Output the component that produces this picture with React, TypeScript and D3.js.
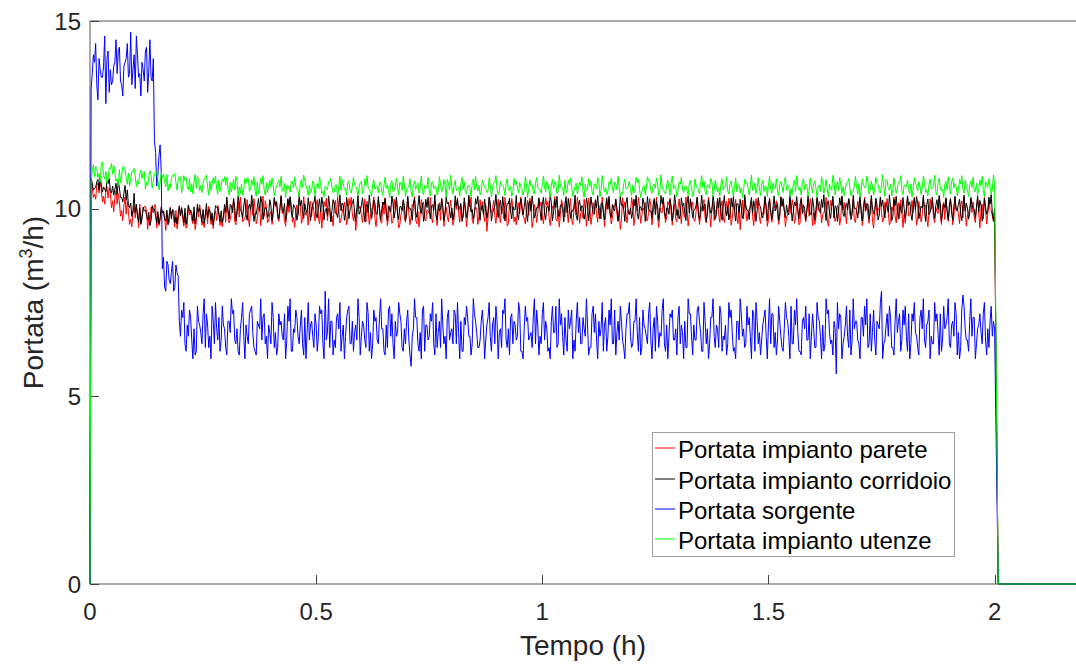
import React from 'react';
import * as d3 from 'd3';

// Sampling: "A" samples at i*STEP (i = 0..400), "B" samples at (i+0.5)*STEP (i = 0..399)
const STEP = 0.005;
const TAIL_T = [2.008, 2.18];
const TAIL_V = [0, 0];

const X_TICKS = [0, 0.5, 1, 1.5, 2];
const Y_TICKS = [0, 5, 10, 15];
const X_LABELS = ['0', '0.5', '1', '1.5', '2'];
const Y_LABELS = ['0', '5', '10', '15'];

// ---------- Portata sorgente (m3/h x10) ----------
const BLUE_A = [
  0,
  136,139,133,140,135,138,128,142,137,134,139,136,143,133,138,140,135,147,137,132,141,136,139,134,143,137,135,140,
  115,109,117,
  84,79,86,81,83,78,85,82,
  66,71,64,69,73,65,68,62,70,67,72,63,69,66,74,64,68,71,65,69,
  63,70,67,72,65,68,61,71,66,69,64,73,67,62,70,68,65,72,66,69,
  64,71,67,63,69,66,72,65,70,62,68,73,66,69,64,71,67,65,70,63,
  69,66,72,64,78,67,63,70,65,71,68,62,69,66,73,64,70,67,65,71,
  66,69,63,72,67,64,70,65,71,68,62,69,73,66,64,70,67,72,63,68,
  70,65,58,68,71,64,67,73,62,69,66,70,64,72,67,63,69,66,71,65,
  68,73,64,67,70,62,69,71,66,64,72,67,63,70,68,65,71,66,69,64,
  70,67,63,72,65,68,71,64,69,66,73,62,68,70,65,67,71,64,69,66,
  72,65,68,63,70,67,74,64,69,66,71,62,68,73,65,70,67,64,71,66,
  69,63,72,67,65,70,68,62,71,66,69,64,73,67,65,70,63,68,72,66,
  64,70,67,71,63,69,66,72,65,68,62,70,67,73,64,69,66,71,65,68,
  71,64,67,70,63,72,66,69,65,74,67,62,70,68,64,71,66,69,63,72,
  66,69,64,71,67,63,70,65,72,68,64,69,66,73,62,70,67,65,71,66,
  69,64,72,67,65,70,63,68,71,66,74,64,69,67,62,70,68,65,72,66,
  68,63,71,66,69,64,72,67,65,70,56,68,71,64,69,66,73,65,68,70,
  64,71,66,69,63,72,67,65,70,68,78,64,69,66,71,63,70,67,72,65,
  69,66,72,64,70,67,63,71,68,65,69,73,66,64,70,67,72,65,68,71,
  64,69,66,72,67,63,77,68,65,70,66,71,64,69,67,72,65,68,70,66,
  68,
];
const BLUE_B = [
  132,141,144,129,137,135,146,140,131,133,138,145,142,134,130,139,144,136,133,141,146,135,130,137,142,131,145,134,
  118,106,114,110,87,78,85,80,86,79,83,70,
  73,75,62,66,71,60,61,74,69,64,76,72,63,60,70,75,65,62,74,68,
  61,70,76,73,64,62,68,75,60,66,72,74,63,61,69,76,71,64,60,67,
  75,63,61,72,70,65,60,74,76,62,67,71,64,73,61,60,75,69,66,72,
  62,74,73,60,65,76,70,61,63,72,75,66,60,71,74,64,62,69,76,61,
  70,65,75,62,60,73,71,64,76,68,61,63,74,72,60,66,75,70,62,64,
  73,61,66,76,71,62,60,74,69,65,72,75,61,63,70,76,64,60,73,67,
  64,72,75,60,62,71,74,66,61,76,70,63,65,73,60,69,75,62,71,74,
  60,68,73,76,63,61,72,70,65,75,62,60,74,71,66,63,76,73,61,64,
  75,70,62,60,74,67,63,76,72,61,65,73,70,60,62,75,71,64,68,76,
  61,63,74,72,60,66,75,69,62,73,76,64,61,70,74,65,60,72,75,63,
  70,76,62,61,73,68,64,75,60,71,74,63,66,76,62,60,72,73,65,61,
  74,69,60,63,76,72,61,65,73,70,62,75,64,60,71,76,63,68,74,62,
  65,61,75,73,62,60,70,76,66,63,74,71,60,72,75,64,61,69,73,60,
  76,72,63,61,74,66,62,75,70,60,64,73,76,62,61,71,74,65,60,72,
  63,75,70,60,62,76,73,64,61,68,75,72,60,66,74,63,61,76,70,65,
  60,71,74,76,64,62,73,61,69,75,60,65,72,74,63,61,76,70,62,73,
  74,62,60,72,75,66,61,73,76,63,70,60,64,75,72,61,62,74,69,76,
  63,70,75,61,60,73,74,65,62,76,71,60,68,72,64,75,61,63,74,70,
];

// ---------- Portata impianto utenze (m3/h x100) ----------
const GREEN_A = [
  0,
  1102,1085,1110,1094,1120,1088,1099,1081,1106,1092,1097,1079,1104,1088,1112,1083,1095,1078,1100,1087,
  1076,1093,1080,1099,1071,1086,1090,1074,1095,1078,1069,1083,1072,1091,1066,1080,1088,1070,1079,1085,
  1061,1075,1058,1080,1065,1071,1054,1078,1062,1069,1085,1057,1073,1064,1068,1052,1076,1060,1072,1063,
  1055,1070,1061,1049,1074,1058,1066,1052,1068,1080,1056,1063,1047,1071,1059,1065,1050,1069,1062,1057,
  1064,1051,1070,1058,1046,1067,1061,1053,1072,1055,1060,1048,1066,1057,1075,1052,1063,1049,1068,1059,
  1054,1067,1046,1060,1051,1071,1056,1044,1063,1058,1049,1066,1053,1070,1047,1059,1064,1050,1057,1073,
  1048,1061,1055,1043,1065,1052,1058,1069,1047,1062,1054,1050,1067,1045,1060,1056,1071,1049,1063,1053,
  1058,1046,1064,1051,1068,1055,1044,1062,1057,1049,1070,1053,1059,1047,1065,1052,1061,1078,1050,1056,
  1063,1048,1057,1066,1051,1045,1060,1054,1069,1050,1058,1062,1046,1067,1053,1049,1064,1056,1071,1052,
  1047,1061,1055,1068,1050,1059,1044,1063,1057,1070,1052,1048,1066,1054,1060,1045,1069,1056,1051,1064,
  1058,1072,1049,1062,1053,1067,1046,1060,1055,1076,1050,1063,1057,1047,1068,1054,1061,1048,1065,1052,
  1059,1045,1066,1053,1070,1049,1062,1056,1047,1064,1055,1071,1050,1058,1044,1067,1053,1060,1048,1063,
  1056,1069,1051,1046,1062,1057,1073,1048,1060,1054,1066,1049,1058,1045,1064,1055,1070,1052,1059,1047,
  1065,1053,1060,1048,1068,1056,1044,1062,1051,1069,1057,1046,1063,1054,1072,1049,1059,1055,1066,1050,
  1058,1047,1067,1053,1061,1045,1064,1056,1050,1070,1054,1062,1048,1068,1057,1052,1065,1046,1059,1063,
  1051,1069,1055,1047,1064,1058,1072,1049,1061,1053,1067,1046,1060,1056,1071,1050,1063,1048,1058,1066,
  1054,1061,1045,1068,1057,1052,1065,1049,1074,1056,1047,1063,1059,1051,1069,1055,1044,1062,1058,1067,
  1050,1064,1056,1071,1048,1060,1053,1067,1046,1062,1057,1078,1052,1065,1049,1059,1055,1070,1047,1063,
  1058,1051,1066,1054,1069,1047,1061,1056,1073,1050,1064,1053,1060,1045,1068,1057,1052,1065,1049,1062,
  1071,1055,1059,1048,1066,1053,1076,1050,1062,1057,1046,1068,1054,1061,1049,1073,1056,1060,1052,1065,
];
const GREEN_B = [
  1075,1118,1112,1082,1070,1125,1079,1068,1108,1121,1115,1073,1062,1070,1111,1104,1065,1060,1098,1107,
  1058,1066,1103,1096,1052,1061,1101,1055,1094,1099,1050,1097,1092,1058,1047,1055,1089,1094,1049,1086,
  1042,1088,1083,1050,1045,1039,1091,1086,1047,1043,1080,1089,1036,1048,1082,1087,1040,1046,1079,1085,
  1084,1037,1044,1078,1086,1032,1041,1035,1080,1083,1046,1077,1085,1033,1039,1081,1088,1036,1042,1076,
  1082,1034,1058,1075,1086,1049,1030,1062,1044,1073,1084,1053,1031,1077,1089,1061,1035,1042,1074,1033,
  1067,1085,1040,1032,1055,1072,1081,1043,1063,1030,1087,1078,1050,1036,1074,1041,1083,1059,1034,1070,
  1039,1079,1088,1052,1033,1077,1060,1042,1071,1035,1084,1064,1029,1075,1048,1082,1037,1066,1086,1032,
  1056,1080,1031,1074,1062,1041,1087,1038,1054,1083,1034,1072,1059,1036,1085,1045,1077,1030,1068,1090,
  1040,1075,1051,1034,1084,1071,1039,1063,1032,1079,1086,1047,1037,1076,1058,1043,1082,1031,1069,1088,
  1038,1073,1061,1035,1080,1049,1033,1081,1074,1042,1057,1036,1085,1030,1077,1064,1039,1083,1052,1041,
  1087,1044,1065,1031,1078,1073,1040,1089,1055,1035,1042,1076,1082,1033,1060,1039,1071,1085,1030,1048,
  1080,1074,1036,1059,1083,1032,1088,1046,1038,1072,1081,1043,1064,1086,1031,1039,1079,1053,1073,1035,
  1042,1084,1078,1030,1057,1037,1085,1074,1041,1066,1082,1034,1090,1050,1039,1076,1036,1087,1062,1031,
  1071,1083,1043,1061,1035,1075,1032,1079,1054,1040,1088,1073,1037,1063,1081,1031,1076,1044,1034,1080,
  1058,1085,1039,1074,1033,1082,1067,1042,1030,1078,1071,1036,1089,1052,1040,1083,1035,1075,1061,1032,
  1086,1041,1055,1080,1034,1073,1043,1084,1060,1031,1038,1076,1088,1049,1036,1079,1065,1033,1082,1042,
  1074,1030,1063,1085,1040,1077,1032,1053,1089,1037,1072,1083,1041,1034,1068,1080,1035,1046,1086,1038,
  1031,1079,1056,1087,1039,1073,1036,1084,1064,1042,1091,1033,1075,1050,1034,1082,1041,1070,1088,1037,
  1062,1076,1040,1031,1083,1058,1072,1038,1086,1043,1035,1079,1054,1089,1036,1081,1047,1030,1073,1085,
  1039,1082,1067,1034,1078,1088,1041,1059,1032,1074,1084,1046,1035,1077,1086,1031,1063,1080,1038,1090,
];

// ---------- Portata impianto corridoio (m3/h x100) ----------
const BLACK_A = [
  0,
  1068,1055,1072,1050,1064,1058,1045,1067,1049,1060,1052,1038,1055,1030,1041,1022,1008,1015,995,990,
  978,1001,972,995,983,990,968,999,980,992,975,988,970,996,982,973,994,977,986,980,
  985,1001,979,994,988,1005,977,992,983,998,986,975,996,989,981,1003,984,994,979,990,
  998,1012,989,1004,994,1015,991,1007,985,1002,996,1010,988,1005,993,1017,990,1001,984,1008,
  995,1009,987,1003,999,1014,983,1006,992,1011,997,986,1008,994,1013,989,1002,996,1016,985,
  1004,991,1010,997,982,1007,995,1012,988,1001,994,1009,986,1005,998,1014,990,1003,985,1008,
  996,1011,989,1004,993,1015,987,1002,998,1010,984,1006,992,1013,997,988,1005,995,1009,983,
  1001,994,1012,989,1006,997,1015,986,1003,992,1008,995,983,1011,999,1004,988,1013,994,1002,
  989,1007,996,1014,985,1003,992,1010,998,987,1012,995,1006,984,1001,993,1015,988,1005,997,
  1009,986,1002,994,1013,990,1006,997,983,1011,999,1004,987,1014,993,1008,985,1002,996,1010,
  988,1005,993,1016,991,1003,984,1009,997,1012,989,1001,995,1007,982,1010,994,1004,988,1013,
  996,1008,985,1002,993,1014,990,1006,998,983,1011,994,1003,987,1009,997,1015,989,1001,992,
  1007,986,1004,995,1012,988,1001,993,1010,984,1005,996,1013,990,1002,985,1008,994,1011,997,
  983,1006,992,1014,989,1003,995,1009,986,1001,993,1012,988,1005,996,1015,984,1002,991,1008,
  997,1010,987,1004,993,1013,990,1001,985,1007,995,1011,988,1003,994,1009,982,1005,998,1012,
  989,1002,994,1014,986,1006,997,1010,983,1004,992,1008,996,1013,987,1001,993,1009,985,1005,
  998,1011,988,1003,994,1015,990,1006,975,1002,993,1009,986,1004,997,1012,984,1001,995,1008,
  989,1005,996,1013,987,1002,994,1010,983,1006,998,1011,990,1003,978,1008,995,1012,988,1001,
  993,1009,986,1004,997,1014,989,1002,995,1011,984,1006,992,1008,998,1013,987,1003,994,1010,
  990,1005,996,1012,985,1007,993,1002,988,1011,997,1004,991,1009,986,1003,995,1012,989,1001,
];
const BLACK_B = [
  1082,1049,1056,1078,1085,1044,1052,1075,1080,1041,1036,1068,1074,1030,1018,1062,1050,1003,979,1041,
  1012,965,958,1004,996,970,955,1008,999,962,960,1005,994,968,957,1002,998,963,959,1006,
  1003,962,958,1010,996,967,960,1012,1000,965,961,1014,997,969,956,1008,1004,966,963,1011,
  1031,972,1008,1025,967,1034,995,975,1028,969,1012,1036,966,985,1027,1033,971,1003,976,1024,
  968,1030,1019,973,1035,990,966,1027,1032,977,1005,969,1038,1022,974,996,1029,967,1013,1033,
  975,1026,1031,970,1001,1034,965,1024,988,976,1037,1015,969,1030,973,1007,1025,966,1035,992,
  1029,966,1010,1036,974,1023,984,1032,970,1018,1027,968,998,1034,975,1031,971,1006,1024,967,
  1033,1002,969,1028,977,1035,987,966,1025,1030,973,1011,1037,970,994,1026,968,1032,1017,975,
  970,1034,1024,1004,966,1029,976,1036,991,972,1027,1033,969,1009,1025,974,1031,967,999,1038,
  976,1023,1032,967,1014,1028,973,997,1035,970,1026,983,1031,966,1020,1034,975,1003,1029,969,
  1030,971,1006,1037,968,1025,1033,979,1012,965,1032,1027,974,993,1036,969,1022,1008,972,1028,
  967,1031,989,1024,1035,973,1016,970,1029,1033,976,1000,1026,968,1034,1011,966,1030,985,974,
  1025,1036,972,1005,1028,966,1032,993,975,1027,1019,969,1035,1030,973,1002,1024,967,1037,982,
  973,1029,1015,968,1033,1026,976,998,1031,970,1036,1009,966,1024,988,1034,972,1027,1030,969,
  1035,981,970,1028,1032,967,1013,1025,974,1037,996,971,1030,1021,966,1029,1006,975,1033,968,
  1024,972,1034,1003,969,1031,1027,976,990,1036,967,1018,1032,973,1026,1010,970,1035,984,1029,
  970,1030,996,1025,1037,968,1021,974,1033,1008,966,1029,1034,979,1014,1027,971,1036,1001,975,
  1032,967,1026,1011,973,1035,986,1028,970,1031,1023,975,1004,1037,968,1025,1033,972,997,1030,
  975,1034,1018,969,1028,1032,973,1007,1036,966,1026,990,1031,974,1024,1035,967,1012,1029,971,
  1027,970,1033,995,1025,968,1036,1015,972,1030,1002,975,1034,1022,967,1028,985,1031,1037,969,
];

// ---------- Portata impianto parete (m3/h x100) ----------
const RED_A = [
  0,
  1055,1038,1062,1042,1050,1033,1045,1028,1040,1021,1030,1012,1018,995,1008,985,992,972,988,975,
  992,1012,983,1006,995,978,1004,989,1010,986,969,991,975,988,962,984,972,995,966,981,
  974,989,958,983,970,992,963,978,986,967,981,960,993,976,985,968,990,973,982,964,
  987,972,995,966,984,978,1001,970,989,975,1003,982,996,973,1008,988,979,1005,967,992,
  984,1006,975,998,987,969,1002,990,1011,977,994,983,1007,971,996,989,1004,979,992,1010,
  976,999,988,1005,968,993,981,1009,985,997,972,1003,990,978,1008,986,995,970,1001,983,
  998,964,992,980,1006,974,989,996,961,985,1003,977,991,968,1000,983,958,994,975,1002,
  987,979,1007,970,993,984,1010,973,997,988,976,1004,982,995,969,1006,990,978,1001,985,
  972,998,989,1008,976,994,983,1005,970,992,1002,979,996,985,1009,974,991,1000,981,997,
  988,1006,973,995,960,990,1003,978,999,986,1011,975,993,982,1004,969,996,988,1007,980,
  994,1008,977,989,1001,972,997,985,1010,978,992,1004,970,996,983,1007,988,975,999,990,
  1005,979,993,986,1009,973,998,982,1003,991,976,1006,987,995,971,1001,984,997,989,1008,
  978,994,1004,981,996,969,990,1007,985,999,974,1002,988,995,979,1010,986,993,972,1000,
  989,1006,977,997,984,1003,971,992,998,983,1008,975,996,987,1001,968,994,985,1005,980,
  999,986,1009,974,993,981,1004,990,972,997,988,1006,979,995,1002,976,991,984,1007,970,
  996,983,1002,989,976,1008,992,978,999,987,1005,973,994,962,1001,985,997,980,1006,990,
  977,995,1003,984,998,971,992,1007,986,980,1001,975,996,989,1009,982,994,969,999,987,
  1004,978,993,985,1008,970,997,983,1002,990,976,1006,988,966,995,981,1003,974,998,986,
  1007,980,994,989,1001,973,996,984,1005,978,992,999,975,1003,987,982,1008,971,995,990,
  1004,979,997,986,1009,975,993,983,1001,990,977,1006,988,996,972,1000,985,998,981,994,
];
const RED_B = [
  1075,1030,1025,1068,1072,1018,1012,1060,1056,1003,992,1048,1040,980,968,1031,1020,958,952,1008,
  1002,950,962,995,1006,945,957,998,1010,948,955,1000,993,942,960,1004,996,951,946,1008,
  999,953,948,1007,995,960,944,1003,1011,956,950,998,1006,958,947,994,1009,955,952,1001,
  1022,962,990,1028,957,1019,1031,965,975,1024,952,1017,1027,960,1003,955,1033,1021,963,986,
  958,1025,1018,966,1030,997,953,1023,1029,964,950,1010,1026,961,1032,982,956,1020,1016,967,
  1024,960,948,1019,1028,1001,965,954,1022,1030,962,989,1017,957,1027,1031,968,942,1021,1006,
  963,1026,1020,958,995,1031,952,1023,966,1017,1029,955,1008,961,1025,1030,948,984,1019,964,
  1027,957,1012,1032,960,951,1024,1018,967,993,1030,962,1021,955,1016,1028,953,1005,965,1023,
  956,1021,1029,964,985,1017,952,1026,1031,960,1003,958,1024,1019,966,940,1027,990,1022,961,
  1025,962,998,1030,954,1020,1027,965,957,1016,1031,982,959,1023,1028,950,1011,963,1026,1018,
  960,1029,1019,955,1006,1032,967,951,1024,988,1021,963,1027,957,1017,1030,961,996,1025,953,
  1028,958,1016,1023,964,990,1031,952,1020,1026,959,1008,1022,966,945,1029,1018,962,984,1030,
  955,1024,1030,961,1002,1017,968,1027,957,1021,1031,950,993,1025,963,1019,1028,956,1012,965,
  1026,960,987,1031,954,1022,1018,966,1029,958,1004,1024,962,1030,951,1017,995,1027,964,1021,
  963,1020,1028,956,1013,1025,960,944,1023,1031,967,998,1019,955,1027,1022,961,986,1030,953,
  1029,964,1007,1021,958,1032,1016,952,983,1026,1024,961,1018,957,1030,994,965,1023,1027,955,
  958,1027,1019,962,990,1030,953,1022,1025,966,1009,956,1031,1017,960,1024,981,1028,963,1020,
  1023,955,1030,1014,961,1026,948,1021,997,1029,964,1018,1027,957,1005,1031,962,1016,1024,950,
  961,1028,985,1022,1031,956,1019,965,1025,1010,952,1027,1023,963,992,1030,958,1017,1026,966,
  1024,957,1029,1001,960,1021,1031,954,988,1026,1018,963,1027,949,1012,1030,959,1022,995,965,
];

const NAMES = [
  'Portata impianto parete',
  'Portata impianto corridoio',
  'Portata sorgente',
  'Portata impianto utenze',
];
const COLORS = ['#ff0000', '#000000', '#0000ff', '#00ff00'];
const SAMPLES_A = [RED_A, BLACK_A, BLUE_A, GREEN_A];
const SAMPLES_B = [RED_B, BLACK_B, BLUE_B, GREEN_B];
const SCALES = [100, 100, 10, 100];

const FONT = '"Liberation Sans", Arial, Helvetica, sans-serif';

export default function App() {
  const W = 1076;
  const H = 666;
  const left = 90, right = 1076, top = 21, bottom = 584;
  const x = d3.scaleLinear().domain([0, 2.18]).range([left, right]);
  const y = d3.scaleLinear().domain([0, 15]).range([bottom, top]);
  const line = d3
    .line<[number, number]>()
    .x((d) => x(d[0]))
    .y((d) => y(d[1]));

  const paths = SAMPLES_A.map((a, k) => {
    const b = SAMPLES_B[k];
    const s = SCALES[k];
    const pts: [number, number][] = [];
    a.forEach((v, i) => {
      pts.push([i * STEP, v / s]);
      if (i < b.length) pts.push([(i + 0.5) * STEP, b[i] / s]);
    });
    TAIL_T.forEach((t, j) => pts.push([t, TAIL_V[j]]));
    return line(pts) || '';
  });

  const axisColor = '#555555';
  const textColor = '#262626';

  const legX = 652, legY = 432, legW = 302, legH = 124;
  const rowY = [448, 479, 509, 539];

  return (
    <svg
      width={W}
      height={H}
      style={{ position: 'absolute', left: 0, top: 0, background: '#fff' }}
      fontFamily={FONT}
    >
      <rect x={0} y={0} width={W} height={H} fill="#fff" />
      <line x1={left} x2={right} y1={top} y2={top} stroke={axisColor} strokeWidth={1} />
      <line x1={left} x2={right} y1={bottom} y2={bottom} stroke={axisColor} strokeWidth={1} />
      <line x1={left} x2={left} y1={top} y2={bottom} stroke={axisColor} strokeWidth={1} />
      {X_TICKS.map((t, i) => (
        <g key={'xt' + i}>
          <line
            x1={Math.round(x(t)) + 0.5}
            x2={Math.round(x(t)) + 0.5}
            y1={bottom}
            y2={bottom - 9}
            stroke="#404040"
            strokeWidth={1}
          />
          <text x={x(t)} y={620} textAnchor="middle" fontSize={24} fill={textColor}>
            {X_LABELS[i]}
          </text>
        </g>
      ))}
      {Y_TICKS.map((t, i) => (
        <g key={'yt' + i}>
          <line
            x1={left}
            x2={left + 9}
            y1={Math.round(y(t)) + 0.5}
            y2={Math.round(y(t)) + 0.5}
            stroke="#404040"
            strokeWidth={1}
          />
          <text x={81} y={y(t) + 8.5} textAnchor="end" fontSize={24} fill={textColor}>
            {Y_LABELS[i]}
          </text>
        </g>
      ))}
      {paths.map((d, k) => (
        <path key={'s' + k} d={d} fill="none" stroke={COLORS[k]} strokeWidth={1} strokeLinejoin="round" />
      ))}
      <text x={(left + right) / 2} y={655} textAnchor="middle" fontSize={28} fill={textColor}>
        Tempo (h)
      </text>
      <text
        transform={`translate(43,${(top + bottom) / 2}) rotate(-90)`}
        textAnchor="middle"
        fontSize={28}
        fill={textColor}
      >
        Portata (m
        <tspan dy={-11} fontSize={18}>3</tspan>
        <tspan dy={11}>/h)</tspan>
      </text>
      <rect x={legX + 0.5} y={legY + 0.5} width={legW} height={legH} fill="#fff" stroke="#a0a0a0" strokeWidth={1} />
      {NAMES.map((n, k) => (
        <g key={'lg' + k}>
          <line x1={655} x2={675} y1={rowY[k]} y2={rowY[k]} stroke={COLORS[k]} strokeWidth={1} />
          <text x={678} y={rowY[k] + 9.5} fontSize={24} fill="#000">
            {n}
          </text>
        </g>
      ))}
    </svg>
  );
}
